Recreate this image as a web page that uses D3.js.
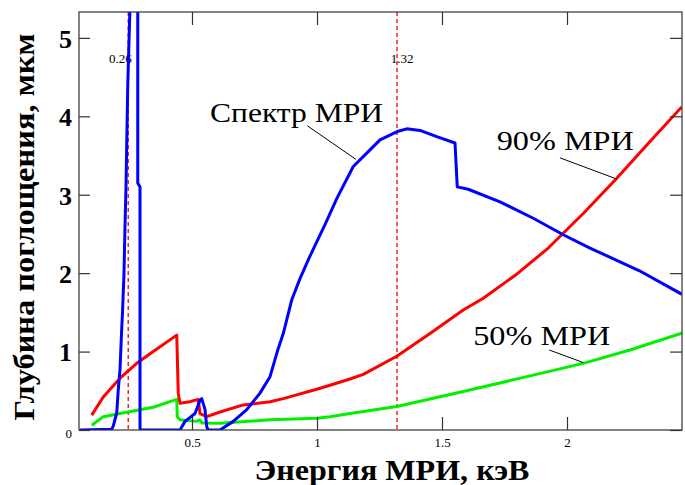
<!DOCTYPE html>
<html>
<head>
<meta charset="utf-8">
<script src="https://cdn.jsdelivr.net/npm/d3@7"></script>
<style>
  html, body { margin: 0; padding: 0; background: #fff; }
  svg text { font-family: "Liberation Serif", "Times New Roman", serif; fill: #000; }
</style>
</head>
<body>
<svg id="chart" width="685" height="485"></svg>
<script>
// Кривые: [энергия, кэВ; глубина, мкм]
const spectrum = [
  [0.052, 0], [0.179, 0.01], [0.185, 0.05], [0.199, 0.22], [0.205, 0.51], [0.212, 0.77],
  [0.219, 1.3], [0.222, 1.5], [0.228, 2.0], [0.232, 2.6], [0.236, 3.1], [0.243, 4.4],
  [0.252, 5.4], [0.262, 6.2], [0.275, 6.0], [0.283, 5.4], [0.283, 3.15], [0.292, 3.1],
  [0.292, 0], [0.452, 0], [0.472, 0.11], [0.512, 0.21], [0.532, 0.38], [0.539, 0.40],
  [0.552, 0.26], [0.559, 0.04], [0.565, 0], [0.612, 0], [0.665, 0.11], [0.719, 0.26],
  [0.772, 0.47], [0.812, 0.68], [0.845, 1.04], [0.865, 1.23], [0.899, 1.66], [0.932, 1.93],
  [0.965, 2.17], [0.999, 2.40], [1.032, 2.62], [1.079, 2.95], [1.145, 3.36], [1.199, 3.53],
  [1.252, 3.70], [1.325, 3.81], [1.359, 3.84], [1.412, 3.82], [1.479, 3.74], [1.552, 3.66],
  [1.561, 3.10], [1.605, 3.07], [1.732, 2.91], [1.865, 2.70], [1.985, 2.49], [2.092, 2.32],
  [2.29, 2.03], [2.46, 1.73]
];
const mri90 = [
  [0.099, 0.19], [0.145, 0.42], [0.212, 0.66], [0.279, 0.85], [0.345, 1.0], [0.439, 1.21],
  [0.445, 0.47], [0.452, 0.34], [0.49, 0.36], [0.525, 0.39], [0.532, 0.21], [0.559, 0.17],
  [0.612, 0.23], [0.705, 0.32], [0.812, 0.36], [0.865, 0.40], [0.999, 0.52], [1.052, 0.57],
  [1.132, 0.65], [1.185, 0.71], [1.319, 0.94], [1.452, 1.23], [1.585, 1.53], [1.665, 1.68],
  [1.80, 1.99], [1.925, 2.32], [2.065, 2.76], [2.199, 3.21], [2.332, 3.68], [2.459, 4.12]
];
const mri50 = [
  [0.099, 0.06], [0.145, 0.17], [0.212, 0.21], [0.345, 0.29], [0.439, 0.39], [0.441, 0.17],
  [0.452, 0.13], [0.519, 0.11], [0.53, 0.13], [0.54, 0.09], [0.612, 0.085], [0.812, 0.13],
  [0.999, 0.15], [1.052, 0.17], [1.132, 0.21], [1.319, 0.30], [1.585, 0.49], [1.852, 0.69],
  [2.065, 0.85], [2.252, 1.02], [2.465, 1.24]
];
const markers = [0.245, 1.32];
const markerLabels = ["0.26", "1.32"];
const xTicks = [0.5, 1, 1.5, 2];
const xTickLabels = ["0.5", "1", "1.5", "2"];
const yTicks = [0, 1, 2, 3, 4, 5];
const yTickLabels = ["0", "1", "2", "3", "4", "5"];
const xDomain = [0.048, 2.46];
const yDomain = [0, 5.33];

const svg = d3.select('#chart');
const margin = { left: 79, top: 12, right: 3, bottom: 55 };
const W = 685, H = 485;

const x = d3.scaleLinear().domain(xDomain).range([margin.left, W - margin.right]);
const y = d3.scaleLinear().domain(yDomain).range([H - margin.bottom, margin.top]);

svg.append('defs').append('clipPath').attr('id', 'plot')
  .append('rect')
  .attr('x', margin.left).attr('y', margin.top)
  .attr('width', W - margin.left - margin.right)
  .attr('height', H - margin.top - margin.bottom);

// пунктирные линии-маркеры
const gMark = svg.append('g');
gMark.selectAll('line').data(markers).join('line')
  .attr('x1', d => x(d)).attr('x2', d => x(d))
  .attr('y1', y.range()[1]).attr('y2', y.range()[0])
  .attr('stroke', '#ff2020').attr('stroke-width', 1.5)
  .attr('stroke-dasharray', '4,3');
const markDx = [-8, 5];
gMark.selectAll('text').data(markers).join('text')
  .attr('x', (d, i) => x(d) + markDx[i]).attr('y', 63)
  .attr('text-anchor', 'middle').attr('font-size', 13)
  .text((d, i) => markerLabels[i]);

// кривые
const line = d3.line().x(d => x(d[0])).y(d => y(d[1]));
const gLines = svg.append('g').attr('clip-path', 'url(#plot)');
[[mri50, '#00f000'], [mri90, '#ff0000'], [spectrum, '#0000ff']].forEach(([data, color]) => {
  gLines.append('path').datum(data)
    .attr('d', line)
    .attr('fill', 'none').attr('stroke', color)
    .attr('stroke-width', 3).attr('stroke-linejoin', 'round');
});

// рамка и внутренние засечки
const frame = '#333';
svg.append('rect')
  .attr('x', margin.left).attr('y', margin.top)
  .attr('width', W - margin.left - margin.right)
  .attr('height', H - margin.top - margin.bottom)
  .attr('fill', 'none').attr('stroke', frame).attr('stroke-width', 1.2);

const gAxes = svg.append('g');
gAxes.append('g').attr('transform', `translate(0,${y(0)})`)
  .call(d3.axisBottom(x).tickValues(xTicks).tickSize(-13)
    .tickFormat(d => xTickLabels[xTicks.indexOf(d)]).tickPadding(8));
gAxes.append('g').attr('transform', `translate(0,${margin.top})`)
  .call(d3.axisTop(x).tickValues(xTicks).tickSize(-13).tickFormat(''));
const yAxisG = gAxes.append('g').attr('transform', `translate(${margin.left},0)`)
  .call(d3.axisLeft(y).tickValues(yTicks).tickSize(-11)
    .tickFormat(d => yTickLabels[yTicks.indexOf(d)]).tickPadding(7));
gAxes.append('g').attr('transform', `translate(${W - margin.right},0)`)
  .call(d3.axisRight(y).tickValues(yTicks).tickSize(-12).tickFormat(''));
gAxes.selectAll('.domain').remove();
gAxes.selectAll('.tick line').attr('stroke', frame).attr('stroke-width', 1.2);
gAxes.selectAll('.tick text')
  .attr('font-family', '"Liberation Serif", "Times New Roman", serif')
  .attr('fill', '#000').attr('font-size', 13);
// крупные жирные подписи 1..5 по оси Y
yAxisG.selectAll('.tick text').filter(d => d > 0)
  .attr('font-size', 26).attr('font-weight', 'bold').attr('dy', '0.36em');
yAxisG.selectAll('.tick text').filter(d => d === 0).attr('dy', '0.6em');

// подписи кривых с выносками
const notes = [
  { text: 'Спектр МРИ', at: [0.572, 3.93], len: 173, from: [0.961, 3.88], to: [1.156, 3.45] },
  { text: '90% МРИ', at: [1.719, 3.57], len: 137, from: [1.972, 3.47], to: [2.199, 3.20] },
  { text: '50% МРИ', at: [1.625, 1.084], len: 137, from: [1.929, 1.02], to: [2.065, 0.86] }
];
const gNotes = svg.append('g');
notes.forEach(n => {
  gNotes.append('text')
    .attr('x', x(n.at[0])).attr('y', y(n.at[1]))
    .attr('font-size', 28)
    .attr('textLength', n.len).attr('lengthAdjust', 'spacingAndGlyphs')
    .text(n.text);
  gNotes.append('line')
    .attr('x1', x(n.from[0])).attr('y1', y(n.from[1]))
    .attr('x2', x(n.to[0])).attr('y2', y(n.to[1]))
    .attr('stroke', '#000').attr('stroke-width', 1);
});

// названия осей
svg.append('text')
  .attr('x', 392).attr('y', 480)
  .attr('text-anchor', 'middle').attr('font-size', 30).attr('font-weight', 'bold')
  .attr('textLength', 275).attr('lengthAdjust', 'spacingAndGlyphs')
  .text('Энергия МРИ, кэВ');
svg.append('text')
  .attr('transform', 'translate(34,227) rotate(-90)')
  .attr('text-anchor', 'middle').attr('font-size', 29).attr('font-weight', 'bold')
  .attr('textLength', 387).attr('lengthAdjust', 'spacingAndGlyphs')
  .text('Глубина поглощения, мкм');
</script>
</body>
</html>
